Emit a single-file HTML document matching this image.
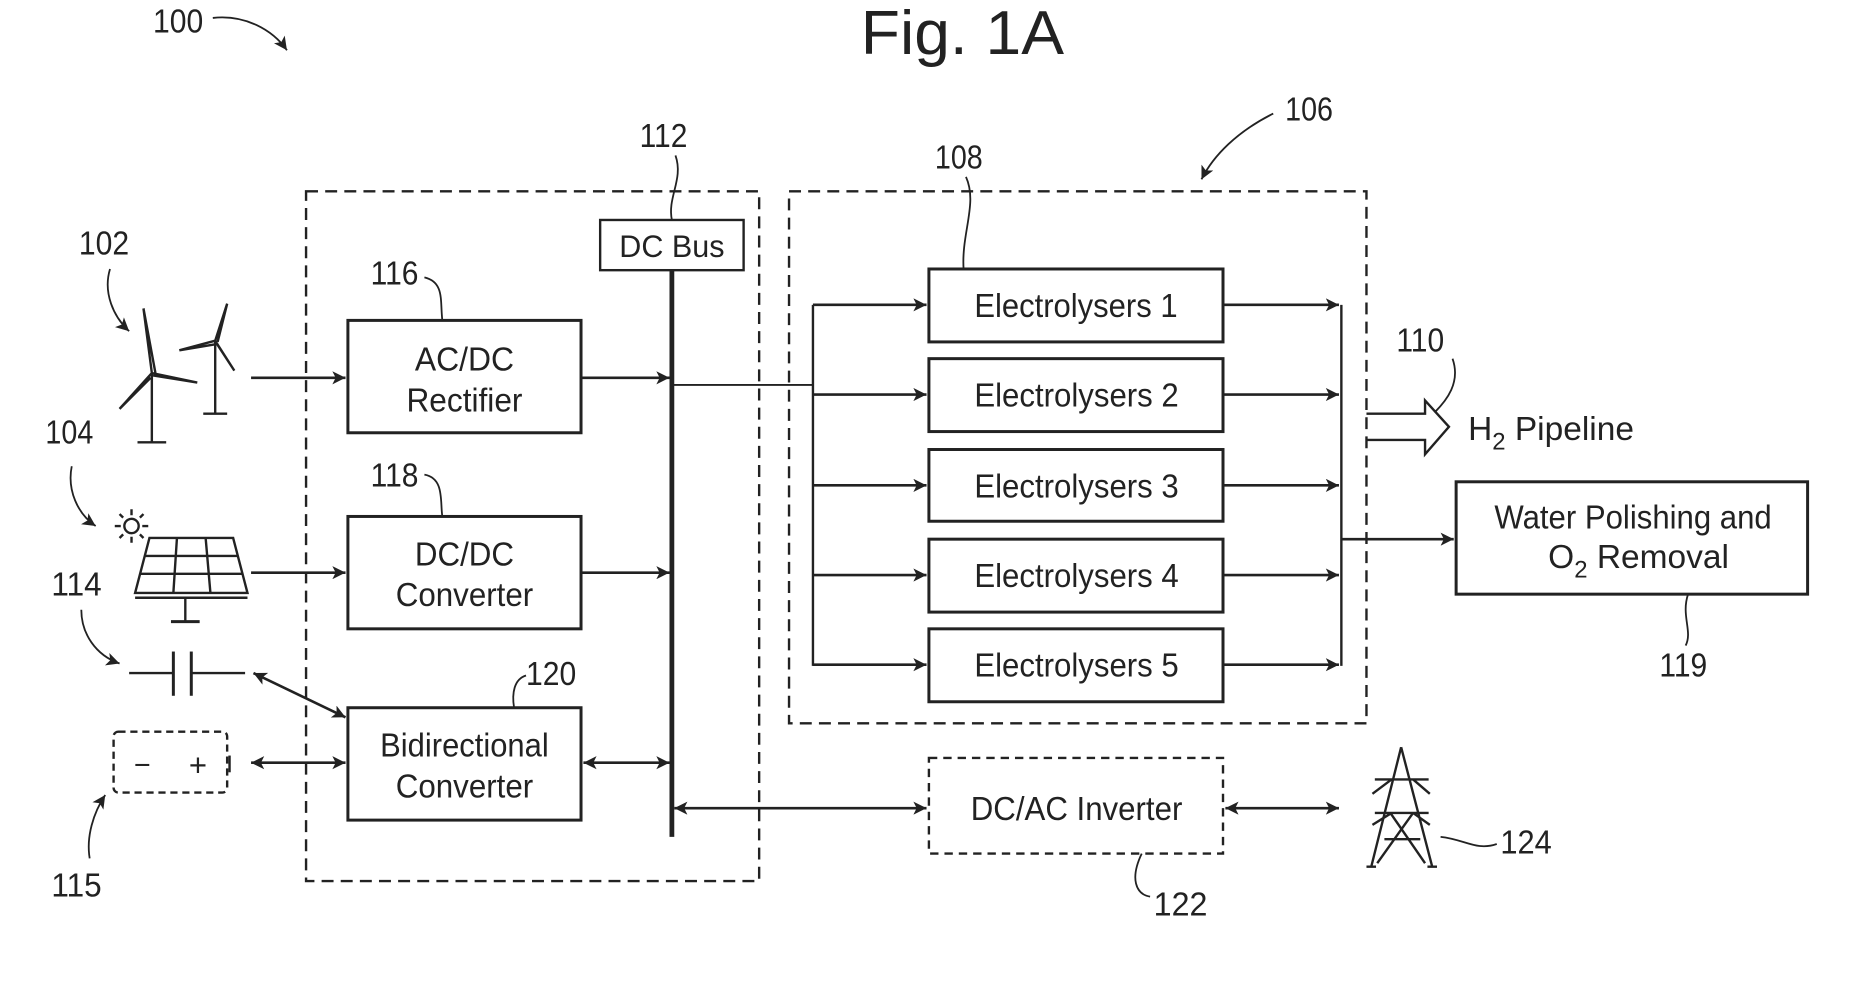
<!DOCTYPE html>
<html><head><meta charset="utf-8"><style>
html,body{margin:0;padding:0;background:#fff;}
svg{display:block;}
text{font-family:"Liberation Sans",sans-serif;fill:#222;}
</style></head><body>
<svg width="1865" height="987" viewBox="0 0 1560 825.6" xmlns="http://www.w3.org/2000/svg">
<defs>
<marker id="a" viewBox="0 0 10 10" refX="10" refY="5" markerWidth="14" markerHeight="11" markerUnits="userSpaceOnUse" orient="auto-start-reverse"><path d="M0,0 L10,5 L0,10 L2.5,5 z" fill="#222"/></marker>
</defs>
<g fill="none" stroke="#222" stroke-width="2">
<rect x="256" y="160" width="379" height="577" stroke-dasharray="10,6"/>
<rect x="660" y="160" width="483" height="445" stroke-dasharray="10,6"/>
<rect x="777" y="634" width="246" height="80" stroke-dasharray="7,5"/>
<rect x="95" y="612" width="95" height="51" rx="4" stroke-dasharray="6,4"/>
<rect x="502" y="184" width="120" height="42"/>
<rect x="291" y="268" width="195" height="94" stroke-width="2.5"/>
<rect x="291" y="432" width="195" height="94" stroke-width="2.5"/>
<rect x="291" y="592" width="195" height="94" stroke-width="2.5"/>
<rect x="777" y="225" width="246" height="61" stroke-width="2.5"/>
<rect x="777" y="300" width="246" height="61" stroke-width="2.5"/>
<rect x="777" y="376" width="246" height="60" stroke-width="2.5"/>
<rect x="777" y="451" width="246" height="61" stroke-width="2.5"/>
<rect x="777" y="526" width="246" height="61" stroke-width="2.5"/>
<rect x="1218" y="403" width="294" height="94" stroke-width="2.5"/>
<line x1="562" y1="226" x2="562" y2="700" stroke-width="4"/>
<line x1="562" y1="322" x2="680" y2="322" stroke-width="1.5"/>
<line x1="680" y1="255" x2="680" y2="557"/>
<line x1="1122" y1="255" x2="1122" y2="557"/>
<g marker-end="url(#a)" stroke-width="2.2">
<line x1="210" y1="316" x2="289" y2="316"/>
<line x1="486" y1="316" x2="560" y2="316"/>
<line x1="210" y1="479" x2="289" y2="479"/>
<line x1="486" y1="479" x2="560" y2="479"/>
<line x1="680" y1="255" x2="775" y2="255"/>
<line x1="680" y1="330" x2="775" y2="330"/>
<line x1="680" y1="406" x2="775" y2="406"/>
<line x1="680" y1="481" x2="775" y2="481"/>
<line x1="680" y1="556" x2="775" y2="556"/>
<line x1="1023" y1="255" x2="1120" y2="255"/>
<line x1="1023" y1="330" x2="1120" y2="330"/>
<line x1="1023" y1="406" x2="1120" y2="406"/>
<line x1="1023" y1="481" x2="1120" y2="481"/>
<line x1="1023" y1="556" x2="1120" y2="556"/>
<line x1="1122" y1="451" x2="1216" y2="451"/>
</g>
<g marker-start="url(#a)" marker-end="url(#a)" stroke-width="2.2">
<line x1="488" y1="638" x2="560" y2="638"/>
<line x1="210" y1="638" x2="289" y2="638"/>
<line x1="212" y1="563" x2="289" y2="600"/>
<line x1="564" y1="676" x2="775" y2="676"/>
<line x1="1025" y1="676" x2="1120" y2="676"/>
</g>
<path d="M1143,346 H1192 V335 L1212,357 L1192,380 V368 H1143" stroke-width="2"/>
<path d="M565,130 C572,150 558,165 562,184" stroke-width="1.5"/>
<path d="M355,232 C372,236 368,252 370,268" stroke-width="1.5"/>
<path d="M355,397 C372,400 368,420 370,432" stroke-width="1.5"/>
<path d="M440,565 C430,568 428,580 430,592" stroke-width="1.5"/>
<path d="M808,148 C818,170 804,195 806,225" stroke-width="1.5"/>
<path d="M1215,300 C1222,320 1210,335 1200,345" stroke-width="1.5"/>
<path d="M1412,497 C1406,515 1416,528 1410,540" stroke-width="1.5"/>
<path d="M955,714 C945,735 950,748 962,750" stroke-width="1.5"/>
<path d="M1205,700 C1225,702 1235,712 1252,706" stroke-width="1.5"/>
<g marker-end="url(#a)" stroke-width="1.5">
<path d="M178,15 C205,12 228,25 240,42"/>
<path d="M1065,95 C1035,110 1015,130 1005,150"/>
<path d="M92,225 C86,245 95,265 108,277"/>
<path d="M60,390 C56,410 65,430 80,440"/>
<path d="M68,510 C68,530 80,548 100,555"/>
<path d="M75,718 C72,700 78,680 88,665"/>
</g>
<line x1="108" y1="563" x2="145" y2="563"/>
<line x1="160" y1="563" x2="205" y2="563"/>
<line x1="145" y1="545" x2="145" y2="582" stroke-width="2.5"/>
<line x1="160" y1="545" x2="160" y2="582" stroke-width="2.5"/>
<line x1="192" y1="632" x2="192" y2="646" stroke-width="2"/>
<line x1="127" y1="312" x2="127" y2="370"/>
<line x1="115" y1="370" x2="139" y2="370"/>
<path d="M127,312 L120,258 L130,312 M127,312 L100,342 L126,316 M127,312 L165,320 L128,314"/>
<line x1="180" y1="285" x2="180" y2="346"/>
<line x1="170" y1="346" x2="190" y2="346"/>
<path d="M180,285 L190,254 L182,286 M180,285 L150,293 L180,288 M180,285 L196,310 L181,287"/>
<circle cx="110" cy="440" r="6"/>
<path d="M110,426 V431 M110,449 V454 M96,440 H101 M119,440 H124 M100,430 L103,433 M117,447 L120,450 M100,450 L103,447 M117,433 L120,430"/>
<path d="M125,450 H195 L207,496 H113 Z"/>
<path d="M121,465 H199 M117,480 H203 M148,450 L145,496 M172,450 L176,496"/>
<line x1="113" y1="500" x2="207" y2="500"/>
<line x1="155" y1="500" x2="155" y2="520"/>
<line x1="143" y1="520" x2="167" y2="520" stroke-width="2.5"/>
<path d="M1172,625 L1147,725 M1172,625 L1198,725 M1150,652 H1195 M1150,680 H1195 M1164,652 L1148,664 M1182,652 L1196,664 M1164,680 L1148,690 M1182,680 L1196,690 M1163,680 L1192,722 M1182,680 L1152,722 M1158,702 H1188 M1143,725 H1151 M1194,725 H1202"/>
</g>
<text x="805" y="45" font-size="52" text-anchor="middle" textLength="170" lengthAdjust="spacingAndGlyphs">Fig. 1A</text>
<g font-size="28">
<text x="128" y="27" textLength="42" lengthAdjust="spacingAndGlyphs">100</text>
<text x="66" y="213" textLength="42" lengthAdjust="spacingAndGlyphs">102</text>
<text x="38" y="371" textLength="40" lengthAdjust="spacingAndGlyphs">104</text>
<text x="1075" y="101" textLength="40" lengthAdjust="spacingAndGlyphs">106</text>
<text x="782" y="141" textLength="40" lengthAdjust="spacingAndGlyphs">108</text>
<text x="1168" y="294" textLength="40" lengthAdjust="spacingAndGlyphs">110</text>
<text x="535" y="123" textLength="40" lengthAdjust="spacingAndGlyphs">112</text>
<text x="43" y="498" textLength="42" lengthAdjust="spacingAndGlyphs">114</text>
<text x="43" y="750" textLength="42" lengthAdjust="spacingAndGlyphs">115</text>
<text x="310" y="238" textLength="40" lengthAdjust="spacingAndGlyphs">116</text>
<text x="310" y="407" textLength="40" lengthAdjust="spacingAndGlyphs">118</text>
<text x="1388" y="566" textLength="40" lengthAdjust="spacingAndGlyphs">119</text>
<text x="440" y="573" textLength="42" lengthAdjust="spacingAndGlyphs">120</text>
<text x="965" y="766" textLength="45" lengthAdjust="spacingAndGlyphs">122</text>
<text x="1255" y="714" textLength="43" lengthAdjust="spacingAndGlyphs">124</text>
<text x="518" y="215" font-size="26" textLength="88" lengthAdjust="spacingAndGlyphs">DC Bus</text>
<text x="347" y="310" textLength="83" lengthAdjust="spacingAndGlyphs">AC/DC</text>
<text x="340" y="344" textLength="97" lengthAdjust="spacingAndGlyphs">Rectifier</text>
<text x="347" y="473" textLength="83" lengthAdjust="spacingAndGlyphs">DC/DC</text>
<text x="331" y="507" textLength="115" lengthAdjust="spacingAndGlyphs">Converter</text>
<text x="318" y="633" textLength="141" lengthAdjust="spacingAndGlyphs">Bidirectional</text>
<text x="331" y="667" textLength="115" lengthAdjust="spacingAndGlyphs">Converter</text>
<text x="815" y="265" textLength="170" lengthAdjust="spacingAndGlyphs">Electrolysers 1</text>
<text x="815" y="340" textLength="171" lengthAdjust="spacingAndGlyphs">Electrolysers 2</text>
<text x="815" y="416" textLength="171" lengthAdjust="spacingAndGlyphs">Electrolysers 3</text>
<text x="815" y="491" textLength="171" lengthAdjust="spacingAndGlyphs">Electrolysers 4</text>
<text x="815" y="566" textLength="171" lengthAdjust="spacingAndGlyphs">Electrolysers 5</text>
<text x="812" y="686" textLength="177" lengthAdjust="spacingAndGlyphs">DC/AC Inverter</text>
<text x="1250" y="442" textLength="232" lengthAdjust="spacingAndGlyphs">Water Polishing and</text>
<text x="1295" y="475">O<tspan font-size="20" dy="8">2</tspan><tspan dy="-8"> Removal</tspan></text>
<text x="1228" y="368">H<tspan font-size="20" dy="8">2</tspan><tspan dy="-8"> Pipeline</tspan></text>
<text x="112" y="648" font-size="24">−</text>
<text x="158" y="649" font-size="26">+</text>
</g>
</svg>
</body></html>
